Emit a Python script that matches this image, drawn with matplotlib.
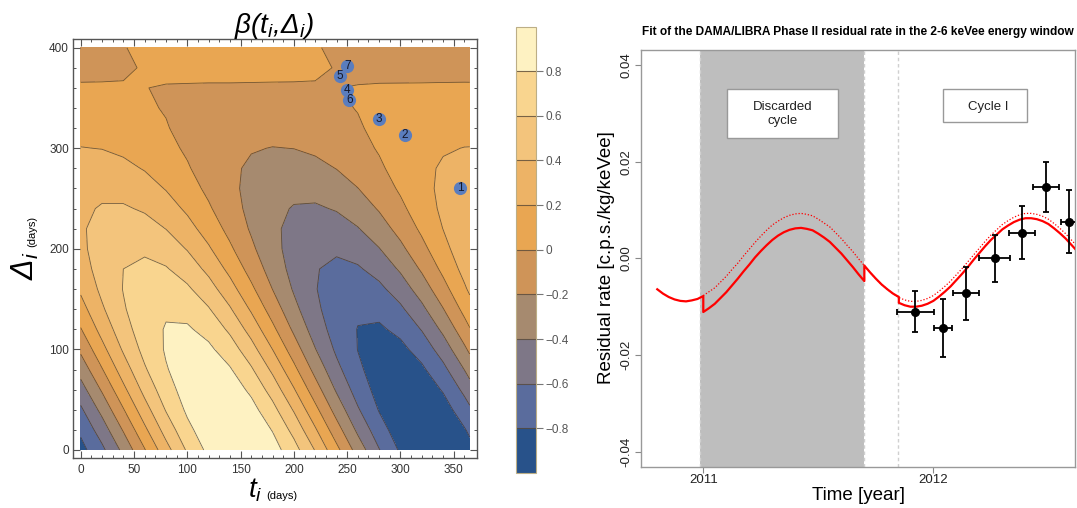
import matplotlib

matplotlib.use("agg")
import matplotlib.pyplot as plt
import numpy as np
from matplotlib.patches import Rectangle

plt.rcParams["font.family"] = ["Liberation Sans", "DejaVu Sans"]
plt.rcParams["mathtext.fontset"] = "custom"
plt.rcParams["mathtext.rm"] = "Liberation Sans:italic"
plt.rcParams["mathtext.it"] = "Liberation Sans:italic"
plt.rcParams["mathtext.sf"] = "Liberation Sans"

# ---- left panel: beta(t_i, Delta_i) (x1000)
t_days = [0, 20, 40, 60, 80, 100, 120, 140, 160, 180, 200, 220, 240, 260, 280, 300, 320, 340, 360, 365]
delta_days = [0, 20, 40, 60, 80, 100, 120, 140, 160, 180, 200, 220, 240, 260, 280, 300, 320, 340, 360, 380, 400]
beta_milli = [
    [-865, -645, -350, -13, 325, 625, 852, 979, 991, 886, 678, 390, 56, -284, -591, -829, -969, -996, -905, -865],
    [-763, -502, -183, 158, 480, 746, 925, 994, 948, 790, 539, 225, -115, -442, -717, -908, -992, -960, -815, -763],
    [-633, -343, -13, 319, 613, 835, 960, 971, 869, 664, 382, 55, -279, -580, -812, -950, -976, -887, -695, -633],
    [-483, -176, 152, 461, 717, 888, 956, 911, 759, 518, 216, -111, -425, -689, -872, -953, -922, -783, -552, -483],
    [-323, -12, 300, 577, 786, 903, 914, 818, 625, 360, 52, -262, -546, -765, -894, -919, -835, -654, -396, -323],
    [-162, 140, 425, 661, 819, 881, 839, 699, 477, 199, -102, -392, -635, -804, -878, -850, -722, -509, -236, -162],
    [-11, 271, 520, 708, 814, 824, 737, 563, 324, 46, -236, -492, -689, -806, -828, -753, -589, -357, -82, -11],
    [123, 374, 581, 720, 775, 738, 615, 420, 175, -90, -344, -558, -707, -773, -748, -635, -447, -208, 57, 123],
    [232, 446, 607, 697, 706, 631, 483, 278, 40, -203, -421, -591, -690, -709, -645, -505, -306, -70, 173, 232],
    [311, 484, 600, 645, 615, 512, 350, 146, -75, -287, -465, -589, -643, -622, -529, -373, -173, 47, 262, 311],
    [359, 489, 562, 569, 509, 389, 224, 32, -163, -340, -476, -557, -572, -520, -407, -246, -57, 139, 319, 359],
    [376, 465, 501, 477, 397, 271, 113, -58, -223, -361, -457, -499, -483, -410, -289, -134, 37, 203, 346, 376],
    [363, 417, 422, 377, 289, 166, 24, -121, -252, -353, -413, -424, -386, -302, -183, -42, 103, 237, 342, 363],
    [326, 351, 334, 279, 190, 79, -41, -156, -253, -320, -350, -339, -288, -203, -94, 26, 142, 242, 314, 326],
    [271, 275, 246, 188, 108, 16, -79, -164, -230, -269, -276, -251, -196, -119, -27, 67, 154, 223, 265, 271],
    [205, 196, 163, 111, 46, -24, -91, -148, -188, -205, -198, -168, -119, -55, 15, 83, 142, 184, 204, 205],
    [136, 122, 93, 53, 8, -39, -81, -114, -133, -137, -124, -97, -59, -14, 33, 76, 110, 131, 137, 136],
    [69, 58, 40, 16, -8, -32, -53, -67, -73, -70, -60, -42, -20, 5, 30, 50, 65, 72, 71, 69],
    [12, 9, 5, 1, -4, -8, -12, -13, -14, -13, -10, -6, -1, 3, 8, 11, 13, 14, 13, 12],
    [-31, -21, -9, 5, 17, 28, 36, 39, 38, 32, 23, 11, -3, -16, -27, -35, -39, -38, -33, -31],
    [-58, -34, -5, 25, 51, 71, 84, 86, 78, 61, 37, 9, -21, -48, -69, -83, -86, -80, -64, -58],
]
level_edges = [-1.0, -0.8, -0.6, -0.4, -0.2, 0.0, 0.2, 0.4, 0.6, 0.8, 1.0]
band_colors = ["#28528a", "#5a6c9d", "#7e7787", "#a68a6f", "#cf9458",
               "#e9a652", "#edb366", "#f3c47c", "#f9d58f", "#fef2c2"]
cbar_ticks = [-0.8, -0.6, -0.4, -0.2, 0.0, 0.2, 0.4, 0.6, 0.8]
cbar_labels = ["\u22120.8", "\u22120.6", "\u22120.4", "\u22120.2", "0", "0.2", "0.4", "0.6", "0.8"]
cycle_t = [356, 304, 280, 250, 243, 252, 250]
cycle_delta = [260, 313, 329, 358, 372, 348, 382]
cycle_ids = ["1", "2", "3", "4", "5", "6", "7"]

# ---- right panel: DAMA/LIBRA residual rate fit
solid_year = [2010.800, 2010.825, 2010.850, 2010.875, 2010.900, 2010.925, 2010.950, 2010.975, 2011.000,
              2011.000, 2011.025, 2011.050, 2011.075, 2011.100, 2011.125, 2011.150, 2011.175, 2011.200, 2011.225,
              2011.250, 2011.275, 2011.300, 2011.325, 2011.350, 2011.375, 2011.400, 2011.425, 2011.450, 2011.475,
              2011.500, 2011.525, 2011.550, 2011.575, 2011.600, 2011.625, 2011.650, 2011.675, 2011.700,
              2011.700, 2011.725, 2011.750, 2011.775, 2011.800, 2011.825, 2011.850,
              2011.850, 2011.875, 2011.900, 2011.925, 2011.950, 2011.975, 2012.000, 2012.025, 2012.050, 2012.075,
              2012.100, 2012.125, 2012.150, 2012.175, 2012.200, 2012.225, 2012.250, 2012.275, 2012.300, 2012.325,
              2012.350, 2012.375, 2012.400, 2012.425, 2012.450, 2012.475, 2012.500, 2012.525, 2012.550, 2012.575,
              2012.600, 2012.625]
solid_rate = [-0.0064, -0.0073, -0.0080, -0.0085, -0.0088, -0.0089, -0.0087, -0.0084, -0.0078,
              -0.0111, -0.0103, -0.0094, -0.0082, -0.0070, -0.0056, -0.0042, -0.0027, -0.0013, 0.0002,
              0.0015, 0.0027, 0.0038, 0.0047, 0.0054, 0.0059, 0.0062, 0.0063, 0.0061, 0.0058,
              0.0051, 0.0043, 0.0034, 0.0022, 0.0010, -0.0004, -0.0018, -0.0033, -0.0047,
              -0.0015, -0.0029, -0.0042, -0.0054, -0.0064, -0.0073, -0.0080,
              -0.0092, -0.0097, -0.0100, -0.0100, -0.0098, -0.0094, -0.0088, -0.0079, -0.0069, -0.0058,
              -0.0045, -0.0032, -0.0018, -0.0003, 0.0011, 0.0025, 0.0038, 0.0049, 0.0060, 0.0068,
              0.0075, 0.0080, 0.0083, 0.0083, 0.0081, 0.0077, 0.0071, 0.0062, 0.0052, 0.0041,
              0.0028, 0.0015]
dotted_year = solid_year[9:38] + solid_year[39:44] + solid_year[45:]
dotted_rate = [-0.0077, -0.0069, -0.0061, -0.0049, -0.0037, -0.0023, -0.0010, 0.0005, 0.0019, 0.0033,
               0.0046, 0.0058, 0.0069, 0.0077, 0.0084, 0.0089, 0.0092, 0.0093, 0.0091, 0.0088,
               0.0081, 0.0073, 0.0065, 0.0053, 0.0041, 0.0027, 0.0014, -0.0001, -0.0015,
               -0.0029, -0.0042, -0.0054, -0.0064, -0.0073,
               -0.0081, -0.0086, -0.0089, -0.0089, -0.0087, -0.0083, -0.0077, -0.0068, -0.0058, -0.0047,
               -0.0034, -0.0021, -0.0007, 0.0007, 0.0021, 0.0035, 0.0048, 0.0059, 0.0070, 0.0078,
               0.0085, 0.0090, 0.0093, 0.0093, 0.0091, 0.0087, 0.0081, 0.0072, 0.0062, 0.0051,
               0.0038, 0.0025]
data_year = [2011.922, 2012.042, 2012.143, 2012.266, 2012.385, 2012.490, 2012.591]
data_rate = [-0.0110, -0.0145, -0.0072, 0.0000, 0.0053, 0.0148, 0.0076]
data_year_err = [0.080, 0.041, 0.057, 0.067, 0.057, 0.056, 0.037]
data_rate_err = [0.0042, 0.0060, 0.0055, 0.0048, 0.0055, 0.0052, 0.0065]
discarded_span = (2010.985, 2011.699)
cycle_start = 2011.848

fig = plt.figure(figsize=(10.77, 5.08), dpi=100)

# ================= left: contour map =================
ax = fig.add_axes([0.0678, 0.0978, 0.3751, 0.8254])
beta = np.array(beta_milli) / 1000.0
cf = ax.contourf(t_days, delta_days, beta, levels=level_edges, colors=band_colors)
ax.contour(t_days, delta_days, beta, levels=level_edges[1:-1], colors="#3d3124",
           linewidths=0.6, linestyles="solid", alpha=0.7)
ax.plot(cycle_t, cycle_delta, "o", ms=9.5, color="#5a7dbe", mew=0, zorder=5)
for tt, dd, lab in zip(cycle_t, cycle_delta, cycle_ids):
    ax.text(tt, dd, lab, ha="center", va="center", fontsize=8.5, color="#15182a", zorder=6)
ax.set_xlim(-7.2, 371.8)
ax.set_ylim(-8.3, 408.6)
ax.set_xticks(range(0, 351, 50))
ax.set_xticks(range(0, 366, 10), minor=True)
ax.set_yticks(range(0, 401, 100))
ax.set_yticks(range(0, 401, 20), minor=True)
ax.tick_params(which="both", direction="in", top=True, right=True, color="#555555",
               labelsize=8.5, labelcolor="#333333")
ax.tick_params(which="major", length=5, width=0.8)
ax.tick_params(which="minor", length=2.5, width=0.7)
ax.tick_params(axis="x", pad=4)
ax.tick_params(axis="y", pad=3)
for s in ax.spines.values():
    s.set_color("#555555")
    s.set_linewidth(1.0)

fig.text(273.5 / 1077, 1 - 11 / 508, r"$\beta(t_i{,}\Delta_i)$", fontsize=20, ha="center", va="top")
fig.text(248 / 1077, 1 - 476 / 508, r"$t_i$", fontsize=20, ha="left", va="top")
fig.text(266 / 1077, 1 - 491 / 508, "(days)", fontsize=8, ha="left", va="top")
fig.text(10 / 1077, 1 - 280 / 508, r"$\Delta_i$", fontsize=22, rotation=90, ha="left", va="bottom")
fig.text(27 / 1077, 1 - 247 / 508, "(days)", fontsize=8, rotation=90, ha="left", va="bottom")

# colorbar
cax = fig.add_axes([516 / 1077, 1 - 473 / 508, 20 / 1077, 446.5 / 508])
cb = fig.colorbar(cf, cax=cax, ticks=cbar_ticks)
cb.ax.set_yticklabels(cbar_labels)
for lv in level_edges[1:-1]:
    cax.axhline(lv, color="#5a4a38", lw=0.8, alpha=0.8)
cb.outline.set_edgecolor("#bcae86")
cb.outline.set_linewidth(0.8)
cax.tick_params(direction="out", length=5, width=0.8, color="#777777", labelsize=8.5,
                labelcolor="#555555", pad=2)

# ================= right: residual rate =================
ax2 = fig.add_axes([0.5949, 0.0813, 0.4033, 0.8203])
ax2.set_xlim(2010.728, 2012.616)
ax2.set_ylim(-0.0431, 0.0431)
ax2.axvspan(discarded_span[0], discarded_span[1], color="#bebebe", lw=0, zorder=0)
for xv in [discarded_span[0], discarded_span[1], cycle_start]:
    ax2.axvline(xv, color="#d0d0d0", ls=(0, (2.5, 2)), lw=1.0, zorder=1)
ax2.plot(dotted_year, dotted_rate, color="red", lw=0.9, ls=(0, (1, 1.5)), zorder=3)
ax2.plot(solid_year, solid_rate, color="red", lw=1.6, zorder=4)
ax2.errorbar(data_year, data_rate, xerr=data_year_err, yerr=data_rate_err, fmt="o",
             color="black", ms=5.5, elinewidth=1.3, capsize=2.5, capthick=1.3, zorder=5)

ax2.set_yticks([-0.04, -0.02, 0.0, 0.02, 0.04])
ax2.set_yticklabels(["-0.04", "-0.02", "0.00", "0.02", "0.04"], rotation=90, va="center")
ax2.set_xticks([2011, 2012])
ax2.set_xticklabels(["2011", "2012"])
ax2.tick_params(direction="out", length=4, width=0.8, color="#888888", labelsize=9.5,
                labelcolor="#222222")
ax2.tick_params(axis="y", pad=2)
ax2.tick_params(axis="x", pad=1.5)
for s in ax2.spines.values():
    s.set_color("#999999")
    s.set_linewidth(1.0)

# annotation boxes
ax2.add_patch(Rectangle((0.1994, 0.7888), 0.2549, 0.1169, transform=ax2.transAxes,
                        facecolor="white", edgecolor="#999999", lw=1.0, zorder=6))
ax2.text(0.3265, 0.8464, "Discarded\ncycle", transform=ax2.transAxes, ha="center", va="center",
         fontsize=9.5, linespacing=1.25, color="#222222", zorder=7)
ax2.add_patch(Rectangle((0.6968, 0.8281), 0.1934, 0.0776, transform=ax2.transAxes,
                        facecolor="white", edgecolor="#999999", lw=1.0, zorder=6))
ax2.text(0.8002, 0.8634, "Cycle I", transform=ax2.transAxes, ha="center", va="center",
         fontsize=9.5, color="#222222", zorder=7)

fig.text(858 / 1077, 1 - 32 / 508, "Fit of the DAMA/LIBRA Phase II residual rate in the 2-6 keVee energy window",
         fontsize=8.6, fontweight="bold", ha="center", va="center")
fig.text(858.8 / 1077, 1 - 495 / 508, "Time [year]", fontsize=13.5, ha="center", va="center")
fig.text(606 / 1077, 1 - 258 / 508, "Residual rate [c.p.s./kg/keVee]", fontsize=13.5,
         rotation=90, ha="center", va="center")

plt.savefig("out.png", dpi=100)
plt.close()
